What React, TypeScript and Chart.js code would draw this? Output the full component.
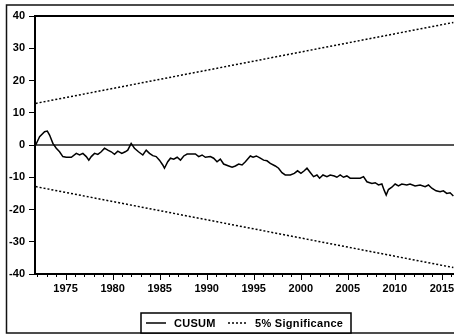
import React, { useEffect, useRef } from "react";
import { Chart, registerables } from "chart.js";

Chart.register(...registerables);

const cusumYears = [
  1971.82, 1972.24, 1972.77, 1973.06, 1973.3, 1973.65, 1974.01, 1974.36, 1974.71, 1975.07,
  1975.61, 1976.14, 1976.49, 1976.84, 1977.2, 1977.47, 1977.73, 1978.08, 1978.43, 1978.79,
  1979.14, 1979.49, 1979.85, 1980.2, 1980.55, 1980.98, 1981.34, 1981.61, 1981.97, 1982.32,
  1982.75, 1983.21, 1983.57, 1983.92, 1984.27, 1984.63, 1984.98, 1985.33, 1985.51, 1985.86,
  1986.15, 1986.5, 1986.86, 1987.21, 1987.56, 1987.92, 1988.8, 1989.15, 1989.51, 1989.86,
  1990.39, 1990.74, 1991.1, 1991.45, 1991.8, 1992.34, 1992.7, 1993.05, 1993.4, 1993.76,
  1994.11, 1994.64, 1994.93, 1995.28, 1995.7, 1996.05, 1996.41, 1996.76, 1997.29, 1997.64,
  1998.0, 1998.35, 1998.89, 1999.31, 1999.66, 2000.02, 2000.37, 2000.66, 2001.01, 2001.36,
  2001.72, 2002.0, 2002.36, 2002.78, 2003.13, 2003.56, 2003.84, 2004.19, 2004.54, 2004.9,
  2005.25, 2005.79, 2006.32, 2006.67, 2007.03, 2007.56, 2007.91, 2008.26, 2008.62, 2008.86,
  2009.08, 2009.32, 2009.68, 2010.03, 2010.38, 2010.74, 2011.27, 2011.62, 2012.15, 2012.69,
  2013.22, 2013.57, 2013.93, 2014.38, 2014.81, 2015.16, 2015.52, 2015.87, 2016.22,
];

const cusumValues = [
  0, 2.6, 4.1, 4.3, 3.1, 0.5, -1, -2.1, -3.6, -3.8,
  -3.8, -2.6, -3.1, -2.6, -3.6, -4.7, -3.6, -2.6, -2.9, -2.1,
  -1, -1.6, -2.1, -2.9, -1.9, -2.6, -2.1, -1.6, 0.5, -1,
  -2.1, -3.1, -1.6, -2.6, -3.3, -3.6, -4.7, -6.2, -7.2, -5.2,
  -4.1, -4.4, -3.8, -4.7, -3.4, -2.8, -2.8, -3.6, -3.1, -3.8,
  -3.6, -4.1, -5.2, -4.4, -5.9, -6.5, -6.9, -6.5, -5.9, -6.2,
  -5.2, -3.4, -3.8, -3.4, -4.1, -4.7, -4.9, -5.7, -6.5, -7.2,
  -8.6, -9.3, -9.3, -8.8, -8, -8.8, -8, -7.2, -8.5, -9.8,
  -9.3, -10.3, -9.3, -9.8, -9.3, -9.6, -10, -9.3, -10, -9.6,
  -10.3, -10.3, -10.3, -9.8, -11.4, -11.9, -11.7, -12.4, -12.1, -14,
  -15.5, -13.8, -13.1, -12.1, -12.7, -12.1, -12.4, -12.1, -12.7, -12.4,
  -12.9, -12.4, -13.4, -14.2, -14.5, -14.2, -15, -14.8, -15.8,
];

const sigYears = [1971.82, 2016.22];
const upperBound = [12.9, 38.0];
const lowerBound = [-12.9, -38.0];

const zeroYears = [1971.75, 2016.5];
const zeroValues = [0, 0];

const xMin = 1971.75;
const xMax = 2016.5;
const xLabelYears = [1975, 1980, 1985, 1990, 1995, 2000, 2005, 2010, 2015];
const yMin = -40;
const yMax = 40;
const yTickValues = [-40, -30, -20, -10, 0, 10, 20, 30, 40];

const legendLabels = ["CUSUM", "5% Significance"];

const FONT = '"Liberation Sans", Arial, sans-serif';

export default function App() {
  const ref = useRef<HTMLCanvasElement>(null);

  useEffect(() => {
    const canvas = ref.current;
    if (!canvas) return;

    const framePlugin = {
      id: "framePlugin",
      beforeDraw(chart: any) {
        const { ctx } = chart;
        ctx.save();
        ctx.fillStyle = "#fff";
        ctx.fillRect(0, 0, chart.width, chart.height);
        ctx.restore();
      },
      afterDraw(chart: any) {
        const { ctx, chartArea: a, scales } = chart;
        ctx.save();
        // outer figure frame
        ctx.strokeStyle = "#111";
        ctx.lineWidth = 1.5;
        ctx.setLineDash([]);
        ctx.strokeRect(6.5, 5, 470, 328);
        // plot frame
        ctx.strokeStyle = "#000";
        ctx.lineWidth = 2;
        ctx.strokeRect(a.left, a.top, a.right - a.left, a.bottom - a.top);
        // x ticks: minor every year, major at labelled years
        const xs = scales.x;
        ctx.lineWidth = 1;
        for (let yr = Math.ceil(xs.min); yr <= xs.max; yr++) {
          const px = Math.round(xs.getPixelForValue(yr)) + 0.5;
          const len = xLabelYears.includes(yr) ? 6 : 3;
          ctx.beginPath();
          ctx.moveTo(px, a.bottom);
          ctx.lineTo(px, a.bottom + len);
          ctx.stroke();
        }
        // legend
        const lx = 141, ly = 313, lw = 210, lh = 20;
        ctx.fillStyle = "#fff";
        ctx.fillRect(lx, ly, lw, lh);
        ctx.lineWidth = 1.5;
        ctx.strokeRect(lx, ly, lw, lh);
        const cy = 323;
        ctx.lineWidth = 1.5;
        ctx.beginPath();
        ctx.moveTo(146, cy);
        ctx.lineTo(166, cy);
        ctx.stroke();
        ctx.setLineDash([2, 2]);
        ctx.beginPath();
        ctx.moveTo(228, cy);
        ctx.lineTo(246, cy);
        ctx.stroke();
        ctx.setLineDash([]);
        ctx.fillStyle = "#000";
        ctx.font = `bold 11px ${FONT}`;
        ctx.textBaseline = "middle";
        ctx.textAlign = "left";
        (ctx as any).letterSpacing = "0.3px";
        ctx.fillText(legendLabels[0], 174, cy + 0.5);
        ctx.fillText(legendLabels[1], 255, cy + 0.5);
        ctx.restore();
      },
    };

    const chart = new Chart(canvas, {
      type: "line",
      data: {
        datasets: [
          {
            label: legendLabels[0],
            data: cusumYears.map((x, i) => ({ x, y: cusumValues[i] })),
            borderColor: "#000",
            borderWidth: 1.5,
            pointRadius: 0,
            tension: 0,
          },
          {
            label: legendLabels[1],
            data: sigYears.map((x, i) => ({ x, y: upperBound[i] })),
            borderColor: "#000",
            borderWidth: 1.5,
            borderDash: [2, 2],
            pointRadius: 0,
          },
          {
            label: legendLabels[1] + " lower",
            data: sigYears.map((x, i) => ({ x, y: lowerBound[i] })),
            borderColor: "#000",
            borderWidth: 1.5,
            borderDash: [2, 2],
            pointRadius: 0,
          },
          {
            label: "zero",
            data: zeroYears.map((x, i) => ({ x, y: zeroValues[i] })),
            borderColor: "#555",
            borderWidth: 2,
            pointRadius: 0,
          },
        ],
      },
      options: {
        animation: false,
        responsive: false,
        devicePixelRatio: 1,
        layout: { padding: { left: 0, top: 16, right: 24, bottom: 0 } },
        plugins: {
          legend: { display: false },
          tooltip: { enabled: false },
          title: { display: false },
        },
        scales: {
          x: {
            type: "linear",
            min: xMin,
            max: xMax,
            afterBuildTicks(scale: any) {
              scale.ticks = xLabelYears.map((v) => ({ value: v }));
            },
            afterFit(scale: any) {
              scale.height = 61;
            },
            border: { display: false },
            grid: {
              display: true,
              drawOnChartArea: false,
              drawTicks: true,
              tickLength: 6,
              color: "rgba(0,0,0,0)",
            },
            ticks: {
              autoSkip: false,
              maxRotation: 0,
              padding: 2,
              color: "#000",
              font: { family: FONT, size: 11, weight: "bold" },
              callback: (v: any) => String(v),
            },
          },
          y: {
            type: "linear",
            min: yMin,
            max: yMax,
            afterBuildTicks(scale: any) {
              scale.ticks = yTickValues.map((v) => ({ value: v }));
            },
            afterFit(scale: any) {
              scale.width = 35;
            },
            border: { display: false },
            grid: {
              display: true,
              drawOnChartArea: false,
              drawTicks: true,
              tickLength: 6,
              color: "#000",
              lineWidth: 1,
            },
            ticks: {
              padding: 4,
              color: "#000",
              font: { family: FONT, size: 11, weight: "bold" },
              callback: (v: any) => String(v),
            },
          },
        },
      },
      plugins: [framePlugin],
    } as any);

    return () => chart.destroy();
  }, []);

  return (
    <div
      style={{
        position: "absolute",
        left: 0,
        top: 0,
        width: 454,
        height: 335,
        overflow: "hidden",
        background: "#fff",
      }}
    >
      <canvas ref={ref} width={480} height={335} style={{ width: 480, height: 335, display: "block" }} />
    </div>
  );
}
